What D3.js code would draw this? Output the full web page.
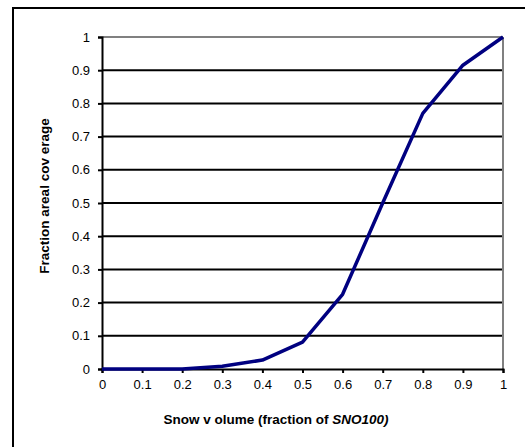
<!DOCTYPE html>
<html><head><meta charset="utf-8">
<script src="https://cdn.jsdelivr.net/npm/d3@7"></script>
<style>body{margin:0;background:#fff}svg{display:block}</style>
</head><body>
<svg id="c" width="525" height="447"></svg>
<script>
const xValues = [0, 0.1, 0.2, 0.3, 0.4, 0.5, 0.6, 0.7, 0.8, 0.9, 1];
const coverage = [0, 0, 0, 0.008, 0.027, 0.081, 0.225, 0.5, 0.77, 0.915, 1];
const xTicks = [0, 0.1, 0.2, 0.3, 0.4, 0.5, 0.6, 0.7, 0.8, 0.9, 1];
const yTicks = [0, 0.1, 0.2, 0.3, 0.4, 0.5, 0.6, 0.7, 0.8, 0.9, 1];
const xTitle = "Snow v olume (fraction of ";
const xTitleItalic = "SNO100)";
const yTitle = "Fraction areal cov erage";

const svg = d3.select("#c");
const font = "Arial, 'Liberation Sans', sans-serif";
// outer frame
svg.append("rect").attr("x",13).attr("y",8).attr("width",540).attr("height",460)
  .attr("fill","none").attr("stroke","#000").attr("stroke-width",2);

const L=102, R=503, T=37, B=369;
const x = d3.scaleLinear().domain([0,1]).range([L,R]);
const y = d3.scaleLinear().domain([0,1]).range([B,T]);

// gridlines
svg.append("g").selectAll("line").data(yTicks.filter(d=>d>0 && d<1)).join("line")
  .attr("x1",L).attr("x2",R).attr("y1",d=>y(d)).attr("y2",d=>y(d))
  .attr("stroke","#000").attr("stroke-width",2);
// top and right border gray
svg.append("line").attr("x1",L).attr("x2",R).attr("y1",T).attr("y2",T).attr("stroke","#808080").attr("stroke-width",2);
svg.append("line").attr("x1",R).attr("x2",R).attr("y1",T).attr("y2",B).attr("stroke","#808080").attr("stroke-width",2);

// axes
const xAxis = svg.append("g").attr("transform",`translate(0,${B})`)
  .call(d3.axisBottom(x).tickValues(xTicks).tickFormat(d3.format("")).tickSize(4).tickPadding(7));
const yAxis = svg.append("g").attr("transform",`translate(${L},0)`)
  .call(d3.axisLeft(y).tickValues(yTicks).tickFormat(d3.format("")).tickSize(4).tickPadding(8));
[xAxis,yAxis].forEach(a=>{
  a.selectAll("path").attr("stroke","#000").attr("stroke-width",2);
  a.selectAll("line").attr("stroke","#000").attr("stroke-width",2);
  a.selectAll("text").attr("fill","#000").style("font-family",font).style("font-size","13px");
});

// line
const line = d3.line().x((d,i)=>x(xValues[i])).y(d=>y(d));
svg.append("path").datum(coverage).attr("d",line)
  .attr("fill","none").attr("stroke","#000080").attr("stroke-width",3.5).attr("stroke-linejoin","round");

// titles
const xt = svg.append("text").attr("x",276).attr("y",424).attr("text-anchor","middle")
  .style("font-family",font).style("font-size","13.5px").style("font-weight","bold");
xt.append("tspan").text(xTitle);
xt.append("tspan").style("font-style","italic").text(xTitleItalic);

svg.append("text").attr("transform","translate(49,196) rotate(-90)").attr("text-anchor","middle")
  .style("font-family",font).style("font-size","13.5px").style("font-weight","bold").text(yTitle);
</script>
</body></html>
